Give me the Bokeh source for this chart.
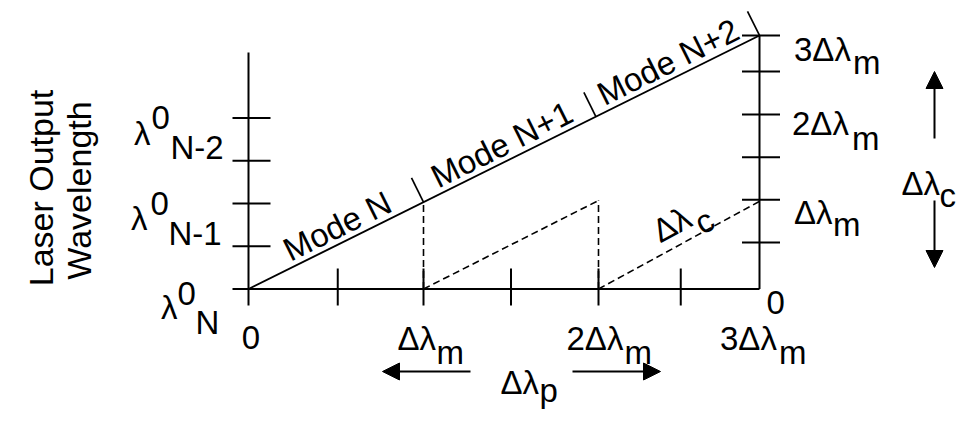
import math
from bokeh.plotting import figure
from bokeh.models import Range1d, Arrow, NormalHead
from bokeh.core.properties import value
from bokeh.embed import file_html
from bokeh.resources import INLINE

# ---------------- data (x unit: Δλm of pump detuning; y unit: one wavelength-axis tick) ----
bottom_tick_x = [0.51, 1.0, 1.5, 2.0, 2.47]
left_tick_y = [1, 2, 3, 4]
right_tick_y = [1.09, 2.09, 3.08, 4.08, 5.09, 5.93]
x_end = 2.92            # right-hand axis (3Δλm as drawn)
y_end = 5.93            # top of the tuning line (3Δλm on the right scale)
left_axis_top = 5.53
mode_bounds = [1.0, 1.985, 2.92]
mode_names = ["Mode N", "Mode N+1", "Mode N+2"]
mode_label_x = [0.55, 1.49, 2.44]
dash_peaks = [2.03, 2.07, 2.05]
left_levels = [0, 2, 4]
left_subs = ["N", "N-1", "N-2"]
bottom_label_x = [1.0, 2.0, 2.92]
bottom_label_main = ["Δλ", "2Δλ", "3Δλ"]
right_label_y = [2.09, 4.08, 5.93]
right_label_main = ["Δλ", "2Δλ", "3Δλ"]

# ---------------- layout ----------------
W, H = 959, 413
SX, SY = 175.0, 42.75            # px per data unit
OX, OY = 248.0, 288.5            # canvas px of the data origin
x0 = -OX / SX
yt = OY / SY
FONT = "Liberation Sans"
FS = 33

p = figure(width=W, height=H, output_backend="svg", toolbar_location=None,
           x_range=Range1d(x0, x0 + W / SX), y_range=Range1d(yt - H / SY, yt),
           x_axis_location=None, y_axis_location=None, min_border=0)
p.grid.visible = False
p.outline_line_color = None
p.background_fill_color = "white"
p.border_fill_color = "white"


def px_x(d):
    return d / SX


def px_y(d):
    return d / SY


def P(X, Y):
    return (X - OX) / SX, (OY - Y) / SY


def put(X, Y, txt, align="left", baseline="alphabetic", angle=0.0, size=FS):
    x, y = P(X, Y)
    put_d(x, y, txt, align, baseline, angle, size)


def put_d(x, y, txt, align="left", baseline="alphabetic", angle=0.0, size=FS):
    p.text(x=[x], y=[y], text=[txt], text_align=align, text_baseline=baseline,
           angle=angle, text_font=value(FONT), text_font_size=f"{size}px",
           text_color="black")


LW = 2.0
# axes
p.segment(x0=[0, -px_x(16), x_end], y0=[-px_y(16.5), 0, 0],
          x1=[0, x_end, x_end], y1=[left_axis_top, 0, y_end],
          line_color="black", line_width=LW)
# left ticks
p.segment(x0=[-px_x(16)] * len(left_tick_y), y0=left_tick_y,
          x1=[px_x(22)] * len(left_tick_y), y1=left_tick_y,
          line_color="black", line_width=LW)
# bottom ticks
p.segment(x0=bottom_tick_x, y0=[px_y(20.5)] * len(bottom_tick_x),
          x1=bottom_tick_x, y1=[-px_y(16.5)] * len(bottom_tick_x),
          line_color="black", line_width=LW)
# right ticks
p.segment(x0=[x_end - px_x(17.5)] * len(right_tick_y), y0=right_tick_y,
          x1=[x_end + px_x(20.5)] * len(right_tick_y), y1=right_tick_y,
          line_color="black", line_width=LW)

# tuning line
p.line([0, x_end], [0, y_end], line_color="black", line_width=1.9)
theta = math.atan2(y_end * SY, x_end * SX)
s, c = math.sin(theta), math.cos(theta)
L = 27.0
bx = list(mode_bounds)
by = [y_end * b / x_end for b in mode_bounds]
p.segment(x0=bx, y0=by, x1=[b - s * L / SX for b in bx], y1=[v + c * L / SY for v in by],
          line_color="black", line_width=1.7)

# dashed construction lines
p.segment(x0=[1.0, 2.0, 1.0, 2.0], y0=[0, 0, 0, 0],
          x1=[1.0, 2.0, 2.0, x_end], y1=[dash_peaks[0], dash_peaks[1], dash_peaks[1], dash_peaks[2]],
          line_color="black", line_width=1.6, line_dash="7 4")

# mode labels
off = 17
for name, xm in zip(mode_names, mode_label_x):
    ym = y_end * xm / x_end
    put_d(xm - s * off / SX, ym + c * off / SY, name, align="center", baseline="middle", angle=theta)

# Δλc along the dashed line
dvx, dvy = (x_end - 2.0) * SX, dash_peaks[2] * SY
dl = math.hypot(dvx, dvy)
ux, uy = dvx / dl, dvy / dl          # along (data-up positive)
nx, ny = -uy, ux                      # perpendicular, up-left
th_d = math.atan2(dvy, dvx)
ax_ = 2.0 + (76 * ux + 22 * nx) / SX
ay_ = (76 * uy + 22 * ny) / SY
put_d(ax_, ay_, "Δλ", angle=th_d)
put_d(ax_ + (41 * ux - 13 * nx) / SX, ay_ + (41 * uy - 13 * ny) / SY, "c", angle=th_d)

# bottom tick labels
put(OX + 2.5, 337, "0", align="center")
for xl, txt, dm, ds in zip(bottom_label_x, bottom_label_main, [-26, -32, -39.5], [13, 26, 19.5]):
    X = OX + xl * SX
    put(X + dm, 338, txt)
    put(X + ds, 352, "m")

# right tick labels
XR = OX + x_end * SX
put(XR + 7, 302, "0")
for yl, txt, dm, dms, bm, bs in zip(right_label_y, right_label_main,
                                    [34.5, 32.5, 34.5], [73.5, 92.5, 93.5],
                                    [13, 9, 14], [25, 24, 27]):
    Y = OY - yl * SY
    put(XR + dm, Y + bm, txt)
    put(XR + dms, Y + bs, "m")

# left labels  λ^0_sub
for lv, sub, dl_, d0, dsb, bl, b0, bsb in zip(left_levels, left_subs,
                                              [-87.5, -117.5, -114.5], [-71, -98, -97],
                                              [-53, -80, -78], [18.5, 15, 15.5],
                                              [4.5, 0, -0.5], [33.5, 30, 29.5]):
    Y = OY - lv * SY
    put(OX + dl_, Y + bl, "λ")
    put(OX + d0, Y + b0, "0")
    put(OX + dsb, Y + bsb, sub)

# axis title
put(40, 187.5, "Laser Output", align="center", angle=math.pi / 2, size=34)
put(78, 190, "Wavelength", align="center", angle=math.pi / 2, size=34)

# arrows
def arrow(X0, Y0, X1, Y1):
    xa, ya = P(X0, Y0)
    xb, yb = P(X1, Y1)
    p.add_layout(Arrow(end=NormalHead(size=17, fill_color="black", line_color="black", line_width=1),
                       x_start=xa, y_start=ya, x_end=xb, y_end=yb,
                       line_color="black", line_width=2))

ROW = 371   # bottom Δλp row (raised so it fits the page)
arrow(470, ROW, 382, ROW)
arrow(572, ROW, 660, ROW)
arrow(934, 138, 934, 71)
arrow(934, 200, 934, 267)

put(500, ROW + 11, "Δλ")
put(539, ROW + 19, "p")
put(901, 183, "Δλ")
put(939, 195, "c")

open("out.html", "w").write(file_html(p, INLINE))
